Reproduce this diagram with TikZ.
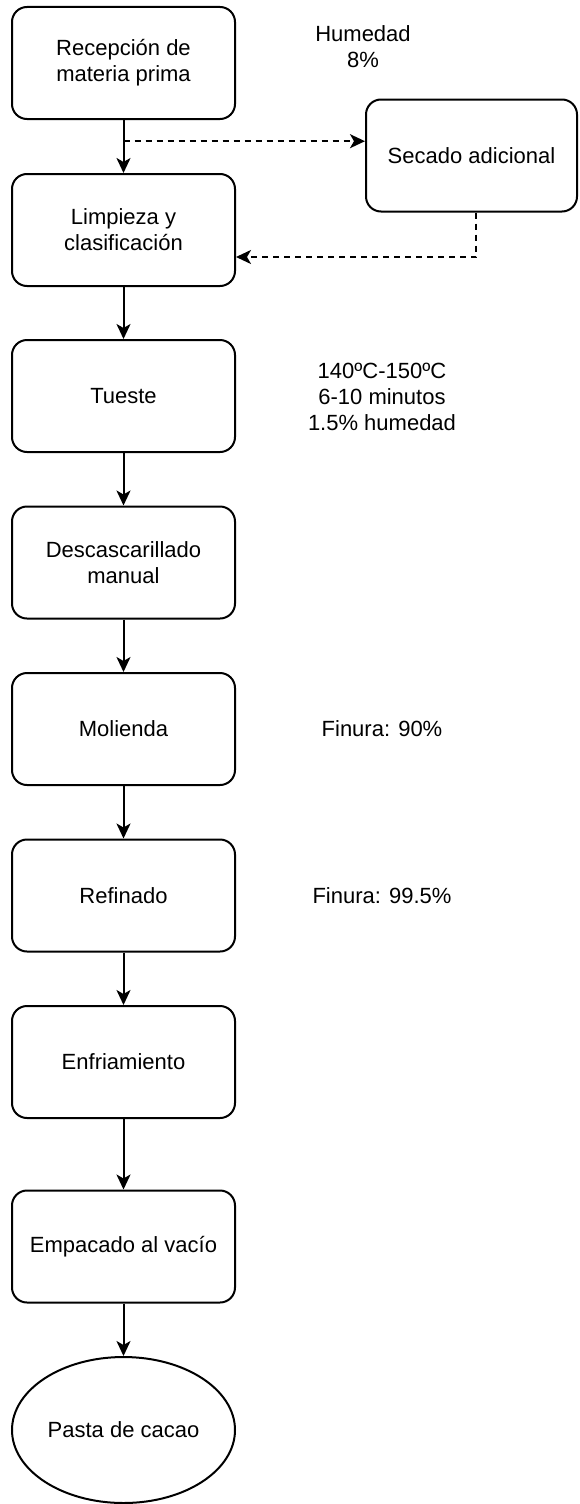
\documentclass[tikz,border=0pt]{standalone}
\usepackage{fontspec}
\setmainfont{Liberation Sans}
\usetikzlibrary{arrows.meta,shapes.geometric,calc}
\begin{document}
\begin{tikzpicture}[x=1pt,y=-1pt,
  stepbox/.style={draw, line width=2pt, rounded corners=15pt, minimum width=223pt, minimum height=112pt, inner sep=0pt, align=center, font=\fontsize{22}{26}\selectfont},
  endshape/.style={draw, line width=2pt, ellipse, minimum width=223pt, minimum height=146pt, inner sep=0pt, align=center, font=\fontsize{22}{26}\selectfont},
  note/.style={align=center, inner sep=0pt, font=\fontsize{22}{26}\selectfont},
  flow/.style={line width=2pt, -{Stealth[length=15pt,width=14pt,inset=4pt]}},
  dflow/.style={line width=2pt, dash pattern=on 6pt off 5pt, -{Stealth[length=15pt,width=14pt,inset=4pt]}}
]
\useasboundingbox (0,0) rectangle (579,1504);
\node[stepbox] (recep) at (123.5,63) {Recepción de\\materia prima};
\node[stepbox] (limp) at (123.5,230) {Limpieza y\\clasificación};
\node[stepbox] (tueste) at (123.5,396) {Tueste};
\node[stepbox] (desc) at (123.5,562.5) {Descascarillado\\manual};
\node[stepbox] (mol) at (123.5,729) {Molienda};
\node[stepbox] (ref) at (123.5,895.5) {Refinado};
\node[stepbox] (enf) at (123.5,1062) {Enfriamiento};
\node[stepbox] (emp) at (123.5,1246.5) {Empacado al vacío};
\node[endshape] (pasta) at (123.5,1430) {Pasta de cacao};
\node[stepbox, minimum width=211pt] (secado) at (471.5,155.5) {Secado adicional};

\node[note] (n1) at (363,46.5) {Humedad\\8\%};
\node[note] (n2) at (382,397) {140ºC-150ºC\\6-10 minutos\\1.5\% humedad};
\node[note] (n3) at (382,729) {Finura: 90\%};
\node[note] (n4) at (382,896) {Finura: 99.5\%};

\draw[flow] (recep) -- (limp);
\draw[flow] (limp) -- (tueste);
\draw[flow] (tueste) -- (desc);
\draw[flow] (desc) -- (mol);
\draw[flow] (mol) -- (ref);
\draw[flow] (ref) -- (enf);
\draw[flow] (enf) -- (emp);
\draw[flow] (emp) -- (pasta);

\coordinate (d1) at ($(recep.south)!0.4!(limp.north)$);
\draw[dflow] (d1) -- (d1 -| secado.west);
\coordinate (s1) at ([xshift=4.5pt]secado.south);
\coordinate (d2) at ([yshift=-27pt]limp.east);
\draw[dflow] (s1) |- (d2);
\end{tikzpicture}
\end{document}
